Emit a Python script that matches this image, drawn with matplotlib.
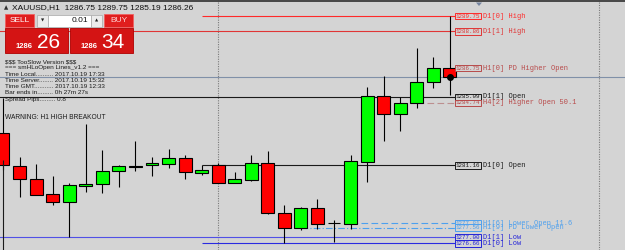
import matplotlib
matplotlib.use("Agg")
import matplotlib.pyplot as plt
from matplotlib.patches import Rectangle, Polygon

# ---------------- data ----------------
title_text = "XAUUSD,H1  1286.75 1289.75 1285.19 1286.26"
bar_open = [1283.03, 1281.11, 1280.38, 1279.50, 1279.05, 1279.97, 1280.06, 1280.80,
            1281.07, 1281.15, 1281.22, 1281.55, 1280.72, 1281.16, 1280.11, 1280.30,
            1281.27, 1278.40, 1277.56, 1278.69, 1277.81, 1277.79, 1281.36, 1285.14,
            1284.12, 1284.76, 1285.93, 1286.75]
bar_high = [1285.05, 1281.65, 1281.21, 1280.55, 1280.15, 1283.53, 1282.03, 1281.15,
            1282.53, 1281.65, 1282.11, 1281.74, 1281.15, 1281.30, 1280.76, 1281.76,
            1281.99, 1278.86, 1278.76, 1279.19, 1278.00, 1281.73, 1285.68, 1286.29,
            1285.10, 1287.92, 1287.39, 1289.75]
bar_low = [1280.90, 1279.32, 1279.44, 1278.88, 1277.00, 1279.63, 1279.57, 1279.88,
           1280.80, 1280.55, 1281.01, 1280.38, 1280.59, 1280.11, 1280.11, 1280.23,
           1278.34, 1276.66, 1277.42, 1277.48, 1276.73, 1277.50, 1280.20, 1282.57,
           1283.14, 1284.43, 1285.62, 1285.19]
bar_close = [1281.17, 1280.36, 1279.46, 1279.05, 1280.02, 1280.09, 1280.82, 1281.11,
             1281.13, 1281.27, 1281.55, 1280.78, 1280.90, 1280.11, 1280.36, 1281.27,
             1278.38, 1277.56, 1278.69, 1277.75, 1277.81, 1281.40, 1285.14, 1284.12,
             1284.74, 1285.93, 1286.74, 1286.26]

level_prices = [1289.75, 1288.86, 1286.75, 1285.09, 1284.74, 1281.16,
                1277.81, 1277.56, 1277.00, 1276.66]
level_names = ["D1[0] High", "D1[1] High", "H1[0] PD Higher Open", "D1[1] Open",
               "H4[2] Higher Open 50.1", "D1[0] Open", "H1[6] Lower Open 11.6",
               "H1[9] PD Lower Open", "D1[1] Low", "D1[0] Low"]
level_start_bar = [12, -1, None, -1, 25, 12, 21, 18, -1, 12]

info_lines = ["$$$ TooSlow Version $$$",
              "=== smHLoOpen Lines_v1.2 ===",
              "Time Local.......... 2017.10.19 17:33",
              "Time Server........ 2017.10.19 15:32",
              "Time GMT........... 2017.10.19 12:33",
              "Bar ends in......... 0h 27m 27s",
              "Spread Pips......... 0.8"]
warning_text = "WARNING: H1 HIGH BREAKOUT"
lot_text = "0.01"
sell_big, sell_small = "26", "1286"
buy_big, buy_small = "34", "1286"

# ---------------- style ----------------
BG = "#d4d4d4"
level_colors = ["#ff2a2a", "#e03535", "#b84a4a", "#1a1a1a", "#bc8f8f", "#1a1a1a",
                "#4da0ee", "#4da0ee", "#5050e6", "#2a2ae0"]
label_colors = ["#ff2a2a", "#e03535", "#b84a4a", "#1a1a1a", "#b84a4a", "#1a1a1a",
                "#4da0ee", "#4da0ee", "#2424d8", "#2424d8"]
level_styles = ["-", "-", "-", "-", (0, (6, 3)), "-", (0, (6, 3)), (0, (6, 2, 1, 2)), "-", "-"]

fig = plt.figure(figsize=(6.25, 2.5), dpi=100, facecolor=BG)
ax = fig.add_axes([0, 0, 1, 1])
ax.set_xlim(-0.181, 37.58)
ax.set_ylim(1276.271, 1290.672)
ax.set_axis_off()

# separators
ax.axvline(13, color="#7a7a7a", lw=0.8, ls=(0, (1, 1.2)), zorder=1)
ax.axvline(36, color="#7a7a7a", lw=0.8, ls=(0, (1, 1.2)), zorder=1)

# level lines
LABEL_X = 27.3
NAME_X = 29.0
for p, nm, st, lc, tc, ls in zip(level_prices, level_names, level_start_bar,
                                 level_colors, label_colors, level_styles):
    if st is not None:
        ax.hlines(p, st, LABEL_X, colors=lc, linestyles=ls, lw=0.8, zorder=2)
    ax.text(LABEL_X + 0.05, p, "%.2f" % p, fontsize=4.2, family="Liberation Mono",
            color=tc, va="center", ha="left", zorder=6,
            bbox=dict(boxstyle="square,pad=0.15", fc=BG, ec=tc, lw=0.7))
    ax.text(NAME_X, p, nm, fontsize=5, family="Liberation Mono", color=tc,
            va="center", ha="left", zorder=6)

# bid line
ax.axhline(bar_close[-1], color="#8090a8", lw=0.8, zorder=2)

# candles
for i, (o, h, l, c) in enumerate(zip(bar_open, bar_high, bar_low, bar_close)):
    ax.vlines(i, l, h, color="black", lw=0.8, zorder=3)
    if c > o:
        fc = "#00ff00"
    elif c < o:
        fc = "#ff0000"
    else:
        fc = "black"
    ax.bar(i, c - o if c != o else 0.0, bottom=o, width=0.78, color=fc,
           edgecolor="black", lw=0.8, zorder=4)
ax.plot(len(bar_close) - 1, bar_close[-1], "o", color="black", ms=4, zorder=5)

# ---------------- UI overlay (pixel coordinates) ----------------
ui = fig.add_axes([0, 0, 1, 1])
ui.set_xlim(0, 625)
ui.set_ylim(250, 0)
ui.set_axis_off()

ui.hlines(1.3, 0, 625, color="#3c3c3c", lw=1.3)
ui.vlines(2.6, 160, 250, color="#1a1a1a", lw=0.8)
ui.add_patch(Polygon([[476, 2.5], [482, 2.5], [479, 6]], closed=True, fc="#7484a0", ec="none"))

ui.text(3.5, 7.3, "\u25b2", fontsize=4, color="#303030", va="center", ha="left")
ui.text(12, 7.3, title_text, fontsize=6, family="Liberation Sans", color="#101010",
        va="center", ha="left")

RED = "#e01e1e"
ui.add_patch(Rectangle((5, 14), 29, 13, fc=RED, ec="#f06060", lw=0.6))
ui.text(19.5, 20.7, "SELL", fontsize=6, family="Liberation Sans", color="white",
        ha="center", va="center")
ui.add_patch(Rectangle((37, 15), 11, 12, fc="#ececec", ec="#a8a8a8", lw=0.5))
ui.text(42.5, 21, "\u25bc", fontsize=3, color="#202020", ha="center", va="center")
ui.add_patch(Rectangle((48, 15), 43, 12, fc="white", ec="#a8a8a8", lw=0.5))
ui.text(88, 21, lot_text, fontsize=6, family="Liberation Sans", color="#101010",
        ha="right", va="center")
ui.add_patch(Rectangle((91, 15), 11, 12, fc="#ececec", ec="#a8a8a8", lw=0.5))
ui.text(96.5, 21, "\u25b2", fontsize=3, color="#202020", ha="center", va="center")
ui.add_patch(Rectangle((104, 14), 29, 13, fc=RED, ec="#f06060", lw=0.6))
ui.text(118.5, 20.7, "BUY", fontsize=6, family="Liberation Sans", color="#ffd6d6",
        ha="center", va="center")

for x0, small, big in [(5, sell_small, sell_big), (70, buy_small, buy_big)]:
    ui.add_patch(Rectangle((x0, 28), 63, 25, fc="#d41414", ec="#b00000", lw=0.6))
    ui.text(x0 + 11, 48, small, fontsize=5.5, family="Liberation Sans", weight="bold",
            color="white", ha="left", va="baseline")
    ui.text(x0 + 31.5, 48.5, big, fontsize=15, family="Liberation Sans",
            color="white", ha="left", va="baseline")

for k, line in enumerate(info_lines):
    ui.text(5, 61.5 + 6.3 * k, line, fontsize=4.6, family="Liberation Sans",
            color="#1a1a1a", ha="left", va="center", parse_math=False)
ui.text(5, 117.5, warning_text, fontsize=4.8, family="Liberation Sans",
        color="#1a1a1a", ha="left", va="center")

fig.savefig("out.png", dpi=100, facecolor=BG)
